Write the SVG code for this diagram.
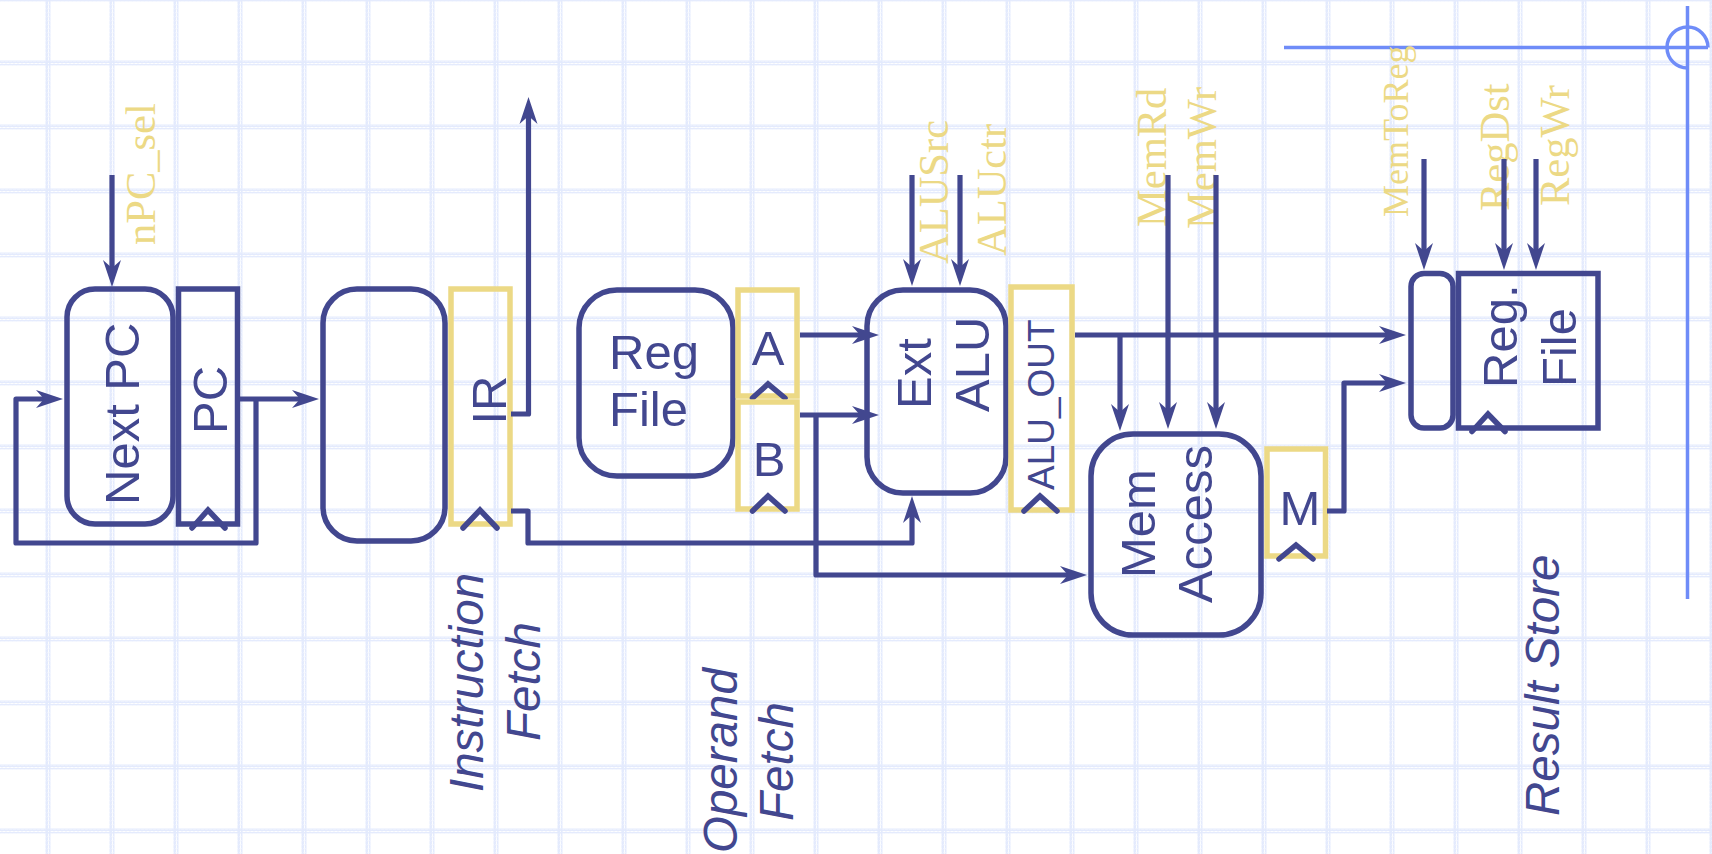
<svg xmlns="http://www.w3.org/2000/svg" width="1712" height="854" viewBox="0 0 1712 854">
<style>
.box{fill:none;stroke:#42478f;stroke-width:5.500}
.reg{fill:none;stroke:#ecd985;stroke-width:5.500}
.clk{fill:none;stroke:#42478f;stroke-width:5.500;stroke-linecap:round;stroke-linejoin:miter}
.wire{fill:none;stroke:#42478f;stroke-width:5.200;stroke-linejoin:round}
.arr{marker-end:url(#ah)}
.t{font-family:"Liberation Sans",Arial,sans-serif;font-size:49px;fill:#42478f}
.i{font-style:italic;font-size:47.500px}
.c{font-family:"Liberation Serif","Times New Roman",serif;font-size:42.500px;fill:#ecd985}
.cross{fill:none;stroke:#6f8cf8;stroke-width:3.500}
</style>
<defs>
<marker id="ah" markerUnits="userSpaceOnUse" markerWidth="28" markerHeight="20" viewBox="0 0 28 20" refX="17" refY="10" orient="auto"><path d="M27 10L0 1L8 10L0 19Z" fill="#42478f"/></marker>
<pattern id="zh" width="4" height="5" patternUnits="userSpaceOnUse"><path d="M0 1L2 4L4 1M0 4L2 1L4 4" fill="none" stroke="#e3eafd" stroke-width="1.200"/></pattern>
<pattern id="zv" width="5" height="4" patternUnits="userSpaceOnUse"><path d="M1 0L4 2L1 4M4 0L1 2L4 4" fill="none" stroke="#e3eafd" stroke-width="1.200"/></pattern>
<pattern id="grid" x="48" y="63" width="64" height="64" patternUnits="userSpaceOnUse">
<rect x="0" y="-2.500" width="64" height="5" fill="url(#zh)"/><rect x="0" y="61.500" width="64" height="5" fill="url(#zh)"/>
<rect x="-2.500" y="0" width="5" height="64" fill="url(#zv)"/><rect x="61.500" y="0" width="5" height="64" fill="url(#zv)"/>
</pattern>
</defs>
<rect id="background" width="1712" height="854" fill="#fff"/>
<rect id="gridlines" width="1712" height="854" fill="url(#grid)"/>
<g id="cross" class="cross">
<path d="M1284 47.400H1708M1687.500 6V599"/>
<path d="M1687.500 68A20.500 20.500 0 1 1 1708 47.400"/>
</g>
<g id="control-labels" class="c">
<text transform="translate(155,245) rotate(-90)">nPC_sel</text>
<text transform="translate(948,264) rotate(-90)">ALUSrc</text>
<text transform="translate(1006,256) rotate(-90)">ALUctr</text>
<text transform="translate(1166,227) rotate(-90)">MemRd</text>
<text transform="translate(1216,229) rotate(-90)">MemWr</text>
<text transform="translate(1408,217) rotate(-90)" style="font-size:36px">MemToReg</text>
<text transform="translate(1508.500,211) rotate(-90)">RegDst</text>
<text transform="translate(1568.500,206) rotate(-90)">RegWr</text>
</g>
<g id="next-pc"><rect class="box" x="67" y="289" width="106" height="235" rx="28"/><text class="t" transform="translate(138.500,505) rotate(-90)">Next PC</text></g>
<g id="pc"><rect class="box" x="178.500" y="289" width="59" height="235"/><text class="t" text-anchor="middle" transform="translate(227,400) rotate(-90)">PC</text><path class="clk" d="M192 528L208 510L225 528"/></g>
<g id="inst-mem"><rect class="box" x="323" y="289" width="122" height="252" rx="34"/></g>
<g id="ir"><rect class="reg" x="451" y="289" width="59" height="235"/><text class="t" text-anchor="middle" transform="translate(506,400) rotate(-90)">IR</text><path class="clk" d="M463 528L480 510L497 528"/></g>
<g id="reg-file"><rect class="box" x="579" y="290" width="154" height="186" rx="38"/><text class="t" x="609" y="369">Reg</text><text class="t" x="609" y="426">File</text></g>
<g id="reg-a"><rect class="reg" x="738" y="290" width="59" height="106"/><text class="t" text-anchor="middle" x="768" y="365">A</text><path class="clk" d="M752.500 398L768 384L785 398"/></g>
<g id="reg-b"><rect class="reg" x="738" y="402" width="59" height="107"/><text class="t" text-anchor="middle" x="769" y="476">B</text><path class="clk" d="M752.500 511L768 496L785 511"/></g>
<g id="ext-alu"><rect class="box" x="867" y="290" width="139" height="203" rx="36"/><text class="t" transform="translate(931,409) rotate(-90)">Ext</text><text class="t" transform="translate(989,412) rotate(-90)">ALU</text></g>
<g id="alu-out"><rect class="reg" x="1011" y="287" width="61" height="223"/><text class="t" style="font-size:37px" transform="translate(1053.700,490) rotate(-90)">ALU_OUT</text><path class="clk" d="M1024 511L1040 496L1057 511"/></g>
<g id="mem-access"><rect class="box" x="1091" y="434" width="170" height="201" rx="42"/><text class="t" transform="translate(1155,578) rotate(-90)">Mem</text><text class="t" transform="translate(1212,603) rotate(-90)">Access</text></g>
<g id="reg-m"><rect class="reg" x="1267" y="449" width="58.500" height="107"/><text class="t" text-anchor="middle" x="1300" y="525">M</text><path class="clk" d="M1279 559L1296 545L1313 559"/></g>
<g id="mux"><rect class="box" x="1411" y="273.500" width="42" height="154.500" rx="13"/></g>
<g id="reg-file-2"><rect class="box" x="1458.500" y="273.500" width="139.500" height="154.500"/><text class="t" transform="translate(1517,388) rotate(-90)">Reg.</text><text class="t" transform="translate(1575.500,387) rotate(-90)">File</text><path class="clk" d="M1472 431.500L1488 414L1505 431.500"/></g>
<g id="stage-labels">
<text class="t i" transform="translate(482.700,792) rotate(-90)">Instruction</text>
<text class="t i" transform="translate(540,741) rotate(-90)">Fetch</text>
<text class="t i" transform="translate(737,853) rotate(-90)">Operand</text>
<text class="t i" transform="translate(793,821) rotate(-90)">Fetch</text>
<text class="t i" transform="translate(1559,816) rotate(-90)">Result Store</text>
</g>
<g id="connectors" class="wire">
<path class="arr" d="M112 175V277"/>
<path class="arr" d="M239 399H309"/>
<path class="arr" d="M256 399V543H16V399H53"/>
<path class="arr" d="M511 414H528.500V107"/>
<path class="arr" d="M511 511H528V543H912V506"/>
<path class="arr" d="M800 335H869"/>
<path class="arr" d="M800 415H869"/>
<path class="arr" d="M816 415V575H1077"/>
<path class="arr" d="M912 175V276"/>
<path class="arr" d="M960 175V276"/>
<path class="arr" d="M1075 335H1396"/>
<path class="arr" d="M1120 335V421"/>
<path class="arr" d="M1168 175V419"/>
<path class="arr" d="M1216 175V419"/>
<path class="arr" d="M1327 511H1344V383H1396"/>
<path class="arr" d="M1424 159V260"/>
<path class="arr" d="M1504 159V260"/>
<path class="arr" d="M1536 159V260"/>
</g>
</svg>
